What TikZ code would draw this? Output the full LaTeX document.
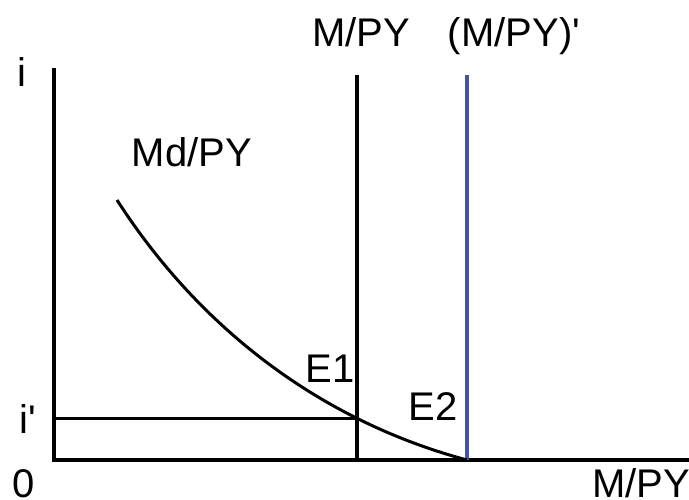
\documentclass[tikz,border=0pt]{standalone}
\usepackage{fontspec}
\setmainfont{Liberation Sans}
\usetikzlibrary{positioning, calc}
\definecolor{mmblue}{HTML}{3F55A5}
\definecolor{mmdark}{HTML}{000000}
\tikzset{
  axisline/.style={line width=4pt, mmdark, line join=miter},
  supply/.style={line width=4pt, mmdark},
  supplynew/.style={line width=3.6pt, mmblue},
  demand/.style={line width=3pt, mmdark},
  guide/.style={line width=3pt, mmdark},
  lbl/.style={font=\fontsize{40}{48}\selectfont, inner sep=0pt, anchor=base},
}

\begin{document}
\begin{tikzpicture}[x=1pt, y=-1pt]
    \useasboundingbox (0,0) rectangle (689,500);
    % axes
    \coordinate (ytop) at (54,68);
    \coordinate (orig) at (54,460);
    \coordinate (xend) at (689,460);
    \draw[axisline] (ytop) -- (orig) -- (xend);
    % money supply lines
    \coordinate (mtop) at (357,75);
    \coordinate (mbot) at (357,460);
    \coordinate (mnewtop) at (467,75);
    \coordinate (mnewbot) at (467,460);
    \draw[supply] (mtop) -- (mbot);
    \draw[supplynew] (mnewtop) -- (mnewbot);
    % demand curve
    \coordinate (mdstart) at (117,200);
    \draw[demand] (mdstart) .. controls (198,326) and (318,420) .. (mnewbot);
    % interest rate guide
    \coordinate (iaxis) at (54,418);
    \coordinate (eone) at (357,418);
    \draw[guide] (iaxis) -- (eone);
    % labels
    \node[lbl] (ilbl) at (22,87) {i};
    \node[lbl] (iprime) at (28,433) {i\textquotesingle};
    \node[lbl] (zero) at (24,497) {0};
    \node[lbl] (xlbl) at (641,497) {M/PY};
    \node[lbl] (mlbl) at (361,47) {M/PY};
    \node[lbl] (mnewlbl) at (514,47) {(M/PY)\textquotesingle};
    \node[lbl] (mdlbl) at (192,167) {Md/PY};
    \node[lbl] (e1lbl) at (330,382) {E1};
    \node[lbl] (e2lbl) at (433,420) {E2};
\end{tikzpicture}
\end{document}
